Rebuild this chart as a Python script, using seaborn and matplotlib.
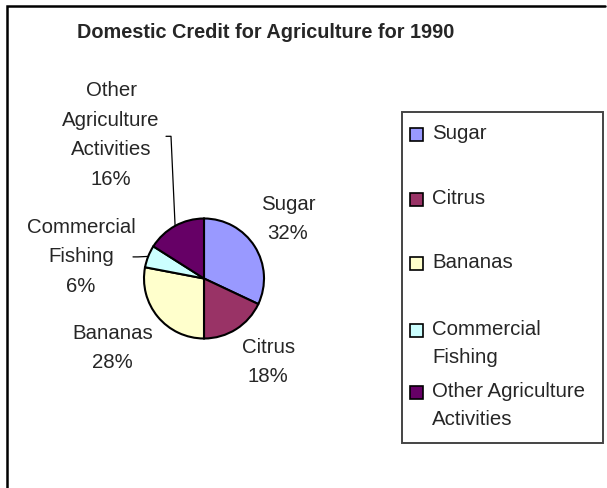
import numpy as np
import seaborn as sns
import matplotlib.pyplot as plt
from matplotlib.patches import Rectangle

categories = ["Sugar", "Citrus", "Bananas", "Commercial Fishing", "Other Agriculture Activities"]
shares = [32, 18, 28, 6, 16]
pie_labels = ["Sugar", "Citrus", "Bananas", "Commercial\nFishing", "Other\nAgriculture\nActivities"]
legend_labels = ["Sugar", "Citrus", "Bananas", "Commercial\nFishing", "Other Agriculture\nActivities"]
colors = ["#9999FF", "#993366", "#FFFFCC", "#CCFFFF", "#660066"]

sns.set_theme(style="white")
plt.rcParams['font.family'] = ['Liberation Sans', 'DejaVu Sans']

W, H = 607, 489
FS = 14.7
fig = plt.figure(figsize=(W / 100, H / 100), dpi=100)
ax = fig.add_axes([0, 0, 1, 1])

# chart area frame: only the left and top edges fall inside the picture
ax.plot([7, 7, 605], [-5, H - 7, H - 7], color="black", linewidth=1.8,
        solid_joinstyle="miter", clip_on=False)

ax.text(266, H - 33, "Domestic Credit for Agriculture for 1990", ha="center", va="center",
        fontsize=14.3, fontweight="bold")

cx, cy, r = 204, H - 279.5, 60
wedges, _ = ax.pie(shares, colors=colors, startangle=90, counterclock=False,
                   center=(cx, cy), radius=r, frame=True,
                   wedgeprops=dict(edgecolor="black", linewidth=1.5))
ax.set_xlim(0, W)
ax.set_ylim(0, H)
ax.axis("off")

# label offsets in pie radii (dx, dy) and where a leader line starts
label_pos = [(1.40, 1.01), (1.07, -1.375), (-1.52, -1.14), (-2.05, 0.375), (-1.55, 2.41)]
leader_from = [None, None, None, (-1.1, 0.36), (-0.55, 2.37)]

for w, lab, val, (dx, dy), lf in zip(wedges, pie_labels, shares, label_pos, leader_from):
    ax.text(cx + dx * r, cy + dy * r, f"{lab}\n{val}%", ha="center", va="center",
            fontsize=FS, linespacing=1.71)
    if lf is not None:
        mid = np.deg2rad((w.theta1 + w.theta2) / 2)
        ex, ey = cx + r * np.cos(mid), cy + r * np.sin(mid)
        sx, sy = cx + lf[0] * r, cy + lf[1] * r
        ax.plot([sx - 5, sx, ex], [sy, sy, ey], color="black", linewidth=0.9)

# legend drawn as an Excel-style box
ax.add_patch(Rectangle((402, H - 444), 201, 331, fill=False, edgecolor="#444444",
                       linewidth=1.4))
legend_rows = [135, 200, 264, 331, 393]
for lab, col, yc in zip(legend_labels, colors, legend_rows):
    ax.add_patch(Rectangle((410, H - yc - 6.5), 13, 13, facecolor=col, edgecolor="black",
                           linewidth=1.2))
    ax.text(432, H - yc + 11, lab, ha="left", va="top", fontsize=FS, linespacing=1.6)

fig.savefig("out.png", dpi=100)
